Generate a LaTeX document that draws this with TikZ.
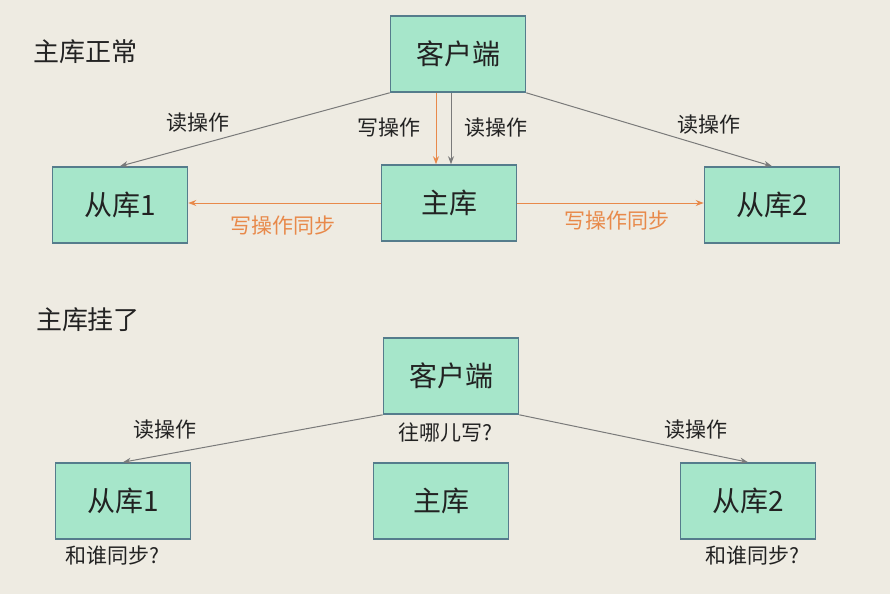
\documentclass[tikz,border=0pt]{standalone}
\usepackage{fontspec}
\setmainfont{Noto Sans CJK SC}
\usetikzlibrary{arrows.meta}

\definecolor{bgcol}{HTML}{EEEBE2}
\definecolor{boxfill}{HTML}{A6E6CA}
\definecolor{boxline}{HTML}{557C8C}
\definecolor{syncorange}{HTML}{E8894A}
\definecolor{readgray}{HTML}{7A7A7A}
\definecolor{txt}{HTML}{222222}

\tikzset{
  dbbox/.style={draw=boxline, fill=boxfill, line width=0.8pt, minimum width=67.5pt,
    minimum height=38pt, inner sep=0pt, text=txt, font=\fontsize{14}{16}\selectfont},
  title/.style={text=txt, font=\fontsize{13}{15}\selectfont},
  oplabel/.style={text=txt, font=\fontsize{10.5}{12}\selectfont},
  synclabel/.style={text=syncorange, font=\fontsize{10.5}{12}\selectfont},
  readarrow/.style={draw=readgray, line width=0.5pt, -{Stealth[length=4pt,width=3pt]}},
  writearrow/.style={draw=syncorange, line width=0.5pt, -{Stealth[length=4pt,width=3pt]}}
}

\begin{document}
\begin{tikzpicture}[x=0.5pt,y=-0.5pt]
    % background
    \fill[bgcol] (0,0) rectangle (890,594);
    \useasboundingbox (0,0) rectangle (890,594);

    %%% master ok
    \node[title] (titleA) at (85,52) {主库正常};

    % boxes
    \node[dbbox] (cA) at (458,54) {客户端};
    \node[dbbox] (sA1) at (120,205) {从库1};
    \node[dbbox] (mA) at (449,203) {主库};
    \node[dbbox] (sA2) at (772,205) {从库2};

    % client to master
    \draw[writearrow] (cA.south -| 436,0) -- (mA.north -| 436,0);
    \draw[readarrow] (cA.south -| 451,0) -- (mA.north -| 451,0);
    \node[oplabel] (wA) at (389,128) {写操作};
    \node[oplabel] (rA) at (496,128) {读操作};

    % client to slaves
    \draw[readarrow] (cA.south west) -- (sA1.north);
    \draw[readarrow] (cA.south east) -- (sA2.north);
    \node[oplabel] (rA1) at (198,123) {读操作};
    \node[oplabel] (rA2) at (709,125) {读操作};

    % sync
    \draw[writearrow] (mA.west) -- (mA.west -| sA1.east);
    \draw[writearrow] (mA.east) -- (mA.east -| sA2.west);
    \node[synclabel] (syA1) at (283,226) {写操作同步};
    \node[synclabel] (syA2) at (617,221) {写操作同步};

    %%% master down
    \node[title] (titleB) at (88,320) {主库挂了};

    % boxes
    \node[dbbox] (cB) at (451,376) {客户端};
    \node[dbbox] (sB1) at (123,501) {从库1};
    \node[dbbox] (mB) at (441,501) {主库};
    \node[dbbox] (sB2) at (748,501) {从库2};

    % client to slaves
    \draw[readarrow] (cB.south west) -- (sB1.north);
    \draw[readarrow] (cB.south east) -- (sB2.north);
    \node[oplabel] (rB1) at (165,430) {读操作};
    \node[oplabel] (rB2) at (696,430) {读操作};

    % questions
    \node[oplabel] (qW) at (445,432) {往哪儿写?};
    \node[oplabel] (qS1) at (112,556) {和谁同步?};
    \node[oplabel] (qS2) at (752,556) {和谁同步?};
\end{tikzpicture}
\end{document}
